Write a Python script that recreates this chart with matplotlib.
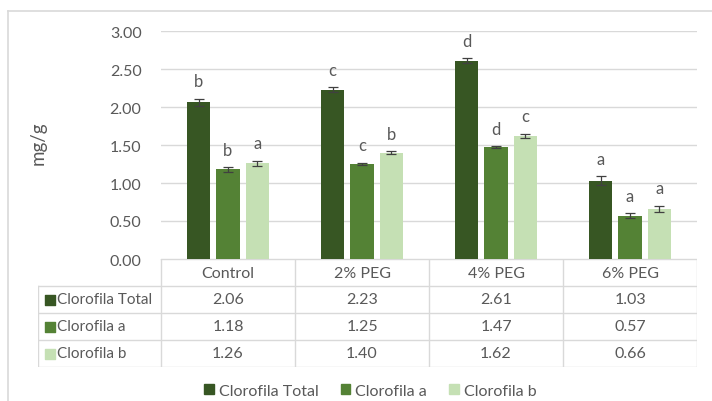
import numpy as np
import matplotlib.pyplot as plt
from matplotlib.patches import Patch

plt.rcParams['font.family'] = ['Lato', 'DejaVu Sans']

# Data
groups = ['Control', '2% PEG', '4% PEG', '6% PEG']
series = ['Clorofila Total', 'Clorofila a', 'Clorofila b']
total = [2.06, 2.23, 2.61, 1.03]
clor_a = [1.18, 1.25, 1.47, 0.57]
clor_b = [1.26, 1.40, 1.62, 0.66]
err_total = [0.05, 0.03, 0.03, 0.06]
err_a = [0.03, 0.015, 0.012, 0.035]
err_b = [0.03, 0.015, 0.025, 0.04]
let_total = ['b', 'c', 'd', 'a']
let_a = ['b', 'c', 'd', 'a']
let_b = ['a', 'b', 'c', 'a']
yticks = [0.0, 0.5, 1.0, 1.5, 2.0, 2.5, 3.0]

colors = ['#375623', '#548235', '#C5E0B4']
txt = '#595959'
grid = '#D9D9D9'
fs = 11.5

W, H = 712, 402
fig = plt.figure(figsize=(W / 100, H / 100), dpi=100)

# outer chart border
border = fig.add_axes([8 / W, 0, 1 - 8 / W, 1 - 12 / H])
border.set_xticks([])
border.set_yticks([])
for s in ['right', 'bottom']:
    border.spines[s].set_visible(False)
for s in ['left', 'top']:
    border.spines[s].set_color(grid)
    border.spines[s].set_linewidth(1.2)
border.patch.set_alpha(0)

# bar area
ax = fig.add_axes([161 / W, (H - 260) / H, 536 / W, 228 / H])
x = np.arange(len(groups)) + 0.5
bw = 0.175
step = 0.22
vals = [total, clor_a, clor_b]
errs = [err_total, err_a, err_b]
lets = [let_total, let_a, let_b]
for i in range(3):
    xi = x + (i - 1) * step
    ax.bar(xi, vals[i], width=bw, color=colors[i], zorder=3,
           yerr=errs[i], error_kw=dict(ecolor='#404040', elinewidth=0.9, capsize=3.5, capthick=0.9))
    for xx, v, e, l in zip(xi, vals[i], errs[i], lets[i]):
        ax.text(xx, v + e + 0.23, l, ha='center', va='center', fontsize=12, color=txt)

ax.set_xlim(0, 4)
ax.set_ylim(0, 3)
ax.set_yticks(yticks)
ax.set_yticklabels([f'{t:.2f}' for t in yticks], fontsize=fs, color=txt)
ax.set_xticks([])
ax.tick_params(axis='y', length=0, pad=14)
ax.grid(axis='y', color=grid, linewidth=1, zorder=0)
for s in ax.spines.values():
    s.set_visible(False)
ax.set_ylabel('mg/g', fontsize=13.5, color=txt)
ax.yaxis.set_label_coords(-0.213, 0.51)

# data table below
lab_w = 123 / 134
tab = fig.add_axes([38 / W, (H - 368) / H, (697 - 38) / W, 108 / H])
tab.set_xlim(-lab_w, 4)
tab.set_ylim(0, 4)
tab.axis('off')
lc = dict(color=grid, linewidth=1)
tab.plot([0, 4], [4, 4], **lc)
for yy in [3, 2, 1, 0]:
    tab.plot([-lab_w, 4], [yy, yy], **lc)
for xx in range(5):
    tab.plot([xx, xx], [0, 4], **lc)
tab.plot([-lab_w, -lab_w], [0, 3], **lc)
for j, g in enumerate(groups):
    tab.text(j + 0.5, 3.5, g, ha='center', va='center', fontsize=fs, color=txt)
for i, name in enumerate(series):
    yc = 2.5 - i
    tab.scatter([-lab_w + 0.09], [yc], marker='s', s=42, color=colors[i])
    tab.text(-lab_w + 0.145, yc, name, ha='left', va='center', fontsize=11, color=txt)
    for j in range(len(groups)):
        tab.text(j + 0.5, yc, f'{vals[i][j]:.2f}', ha='center', va='center', fontsize=fs, color=txt)

# legend
handles = [Patch(color=c, label=s) for c, s in zip(colors, series)]
fig.legend(handles=handles, loc='center', bbox_to_anchor=(0.52, (H - 392) / H), ncol=3,
           frameon=False, fontsize=fs, handlelength=0.6, handleheight=0.6,
           handletextpad=0.3, columnspacing=1.4, labelcolor=txt)

fig.savefig('out.png', dpi=100)
